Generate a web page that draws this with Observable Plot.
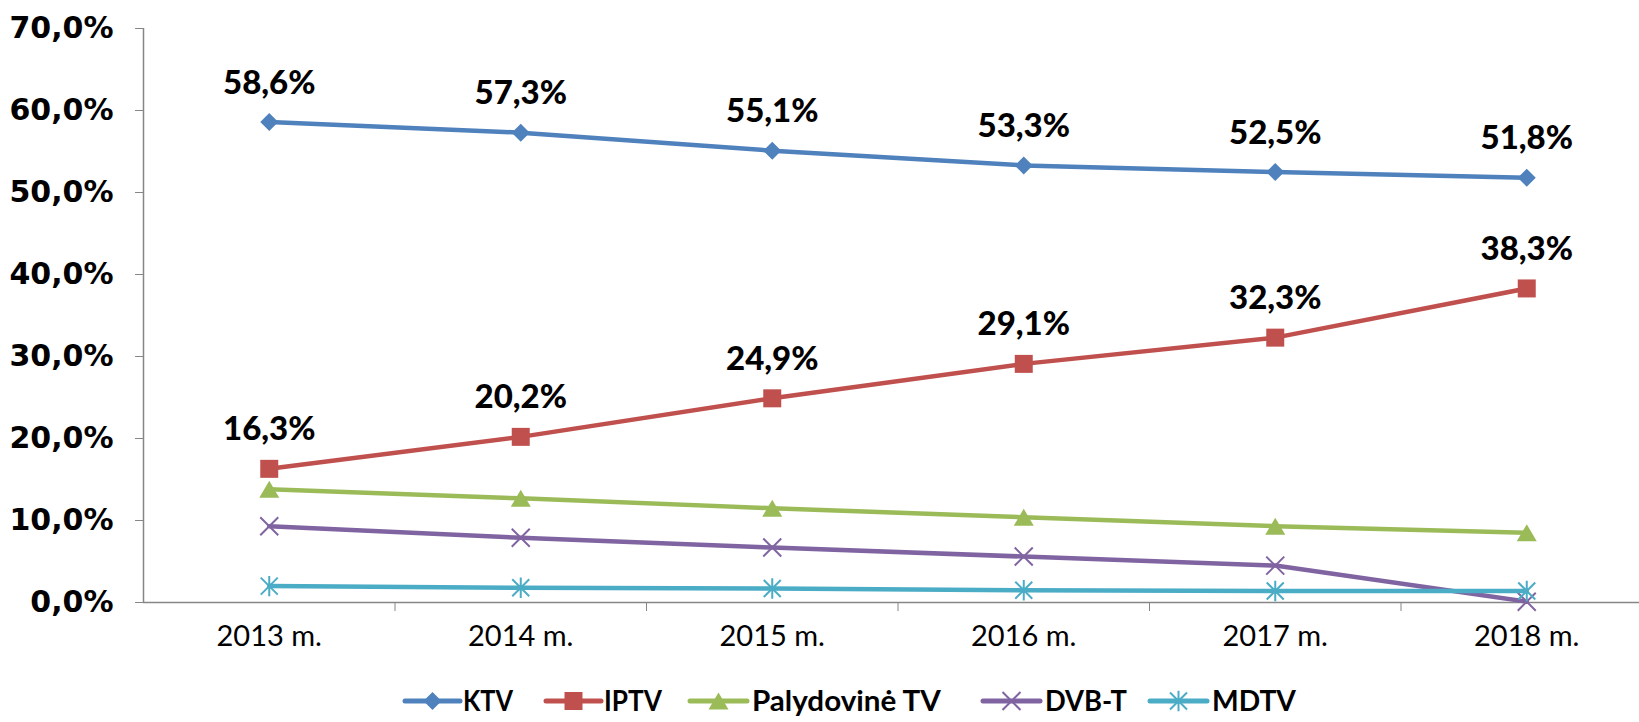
<!DOCTYPE html>
<html><head><meta charset="utf-8">
<script src="https://cdn.jsdelivr.net/npm/d3@7"></script>
<script src="https://cdn.jsdelivr.net/npm/@observablehq/plot@0.6"></script>
<style>
body{margin:0;background:#fff;overflow:hidden}
#chart svg,#legend svg{display:block}
</style>
</head><body>
<div id="chart"></div>
<div id="legend"></div>
<script>
const years = [2013, 2014, 2015, 2016, 2017, 2018];
const yearLabels = ["2013 m.", "2014 m.", "2015 m.", "2016 m.", "2017 m.", "2018 m."];
const seriesNames = ["KTV", "IPTV", "Palydovinė TV", "DVB-T", "MDTV"];
const ktv = [58.6, 57.3, 55.1, 53.3, 52.5, 51.8];
const iptv = [16.3, 20.2, 24.9, 29.1, 32.3, 38.3];
const palydovine = [13.8, 12.7, 11.5, 10.4, 9.3, 8.5];
const dvbt = [9.3, 7.9, 6.7, 5.6, 4.5, 0.1];
const mdtv = [2.0, 1.8, 1.7, 1.5, 1.4, 1.4];
const colors = ["#4F81BD", "#C0504D", "#9BBB59", "#8064A2", "#4BACC6"];
const yTicks = [0, 10, 20, 30, 40, 50, 60, 70];
const labeledSeries = ["KTV", "IPTV"];

const allValues = [ktv, iptv, palydovine, dvbt, mdtv];
const rows = [];
seriesNames.forEach((s, i) => years.forEach((yr, j) => rows.push({series: s, year: yr, value: allValues[i][j]})));

const fmt = v => v.toFixed(1).replace(".", ",") + "%";
const rad = size => Math.sqrt(size / Math.PI);

const symDiamond = {draw(c, size){ const r = rad(size); c.moveTo(0,-r); c.lineTo(r,0); c.lineTo(0,r); c.lineTo(-r,0); c.closePath(); }};
const symSquare = {draw(c, size){ const r = rad(size); c.moveTo(-r,-r); c.lineTo(r,-r); c.lineTo(r,r); c.lineTo(-r,r); c.closePath(); }};
const symTriangle = {draw(c, size){ const r = rad(size); c.moveTo(0,-0.85*r); c.lineTo(r,0.85*r); c.lineTo(-r,0.85*r); c.closePath(); }};
const symTimes = {draw(c, size){ const r = rad(size); c.moveTo(-r,-r); c.lineTo(r,r); c.moveTo(-r,r); c.lineTo(r,-r); }};
const symStar = {draw(c, size){ const r = rad(size); c.moveTo(-r,-r); c.lineTo(r,r); c.moveTo(-r,r); c.lineTo(r,-r); c.moveTo(0,-1.2*r); c.lineTo(0,1.2*r); }};

const markerSpec = [
  {symbol: symDiamond, r: 9, filled: true},
  {symbol: symSquare, r: 9, filled: true},
  {symbol: symTriangle, r: 10, filled: true},
  {symbol: symTimes, r: 9, filled: false},
  {symbol: symStar, r: 8.5, filled: false}
];

const marks = [
  Plot.ruleY([0], {stroke: "#868686", strokeWidth: 1.5}),
  Plot.ruleX([2012.5], {stroke: "#868686", strokeWidth: 1.5}),
  Plot.axisY({ticks: yTicks, tickFormat: fmt, tickSize: 8, tickPadding: 22, stroke: "#868686",
    fontSize: 30, fontWeight: "bold", fontFamily: "DejaVu Sans", fill: "#000", label: null}),
  Plot.axisX({ticks: [2013.5, 2014.5, 2015.5, 2016.5, 2017.5], tickSize: 9, tickFormat: () => "", stroke: "#868686", label: null}),
  Plot.axisX({ticks: years, tickSize: 0, tickPadding: 23, tickFormat: d => yearLabels[years.indexOf(d)],
    fontSize: 29, fontFamily: "Lato", fill: "#000", label: null})
];

seriesNames.forEach((s, i) => {
  const data = rows.filter(d => d.series === s);
  marks.push(Plot.line(data, {x: "year", y: "value", stroke: colors[i], strokeWidth: 4.5, strokeLinejoin: "round"}));
  const m = markerSpec[i];
  marks.push(Plot.dot(data, {x: "year", y: "value", symbol: m.symbol, r: m.r,
    fill: m.filled ? colors[i] : "none", stroke: colors[i], strokeWidth: m.filled ? 0 : 2}));
});

marks.push(Plot.text(rows.filter(d => labeledSeries.includes(d.series)), {
  x: "year", y: "value", text: d => fmt(d.value), dy: -39, lineAnchor: "middle",
  fontSize: 33, fontWeight: 900, fontFamily: "Lato", fill: "#000"
}));

const chart = Plot.plot({
  width: 1639,
  height: 675,
  marginLeft: 143,
  marginRight: 0,
  marginTop: 28,
  marginBottom: 73,
  style: {background: "#fff", overflow: "visible"},
  x: {type: "linear", domain: [2012.5, 2018.5], range: [143, 1652]},
  y: {domain: [0, 70]},
  marks
});
document.getElementById("chart").appendChild(chart);

// Legend
const legendItems = [
  {x1: 405, x2: 460, tx: 463, tl: 50},
  {x1: 546, x2: 601, tx: 604, tl: 58},
  {x1: 690, x2: 747, tx: 752, tl: 189},
  {x1: 983, x2: 1040, tx: 1045, tl: 82},
  {x1: 1150, x2: 1207, tx: 1212, tl: 84}
];
const lsvg = d3.create("svg").attr("width", 1639).attr("height", 47);
document.getElementById("legend").appendChild(lsvg.node());
const cy = 26;
legendItems.forEach((it, i) => {
  const g = lsvg.append("g");
  g.append("line").attr("x1", it.x1).attr("x2", it.x2).attr("y1", cy).attr("y2", cy)
    .attr("stroke", colors[i]).attr("stroke-width", 5).attr("stroke-linecap", "round");
  const m = markerSpec[i];
  const path = d3.path();
  m.symbol.draw(path, Math.PI * m.r * m.r);
  g.append("path").attr("d", path.toString()).attr("transform", `translate(${(it.x1 + it.x2) / 2},${cy})`)
    .attr("fill", m.filled ? colors[i] : "none").attr("stroke", m.filled ? "none" : colors[i]).attr("stroke-width", 2);
  const t = g.append("text").attr("x", 0).attr("y", 0).text(seriesNames[i])
    .attr("font-family", "Lato").attr("font-weight", "bold").attr("font-size", 28).attr("fill", "#000");
  const w = t.node().getComputedTextLength() || it.tl;
  t.attr("transform", `translate(${it.tx},${cy + 10}) scale(${it.tl / w},1)`);
});
</script>
</body></html>
